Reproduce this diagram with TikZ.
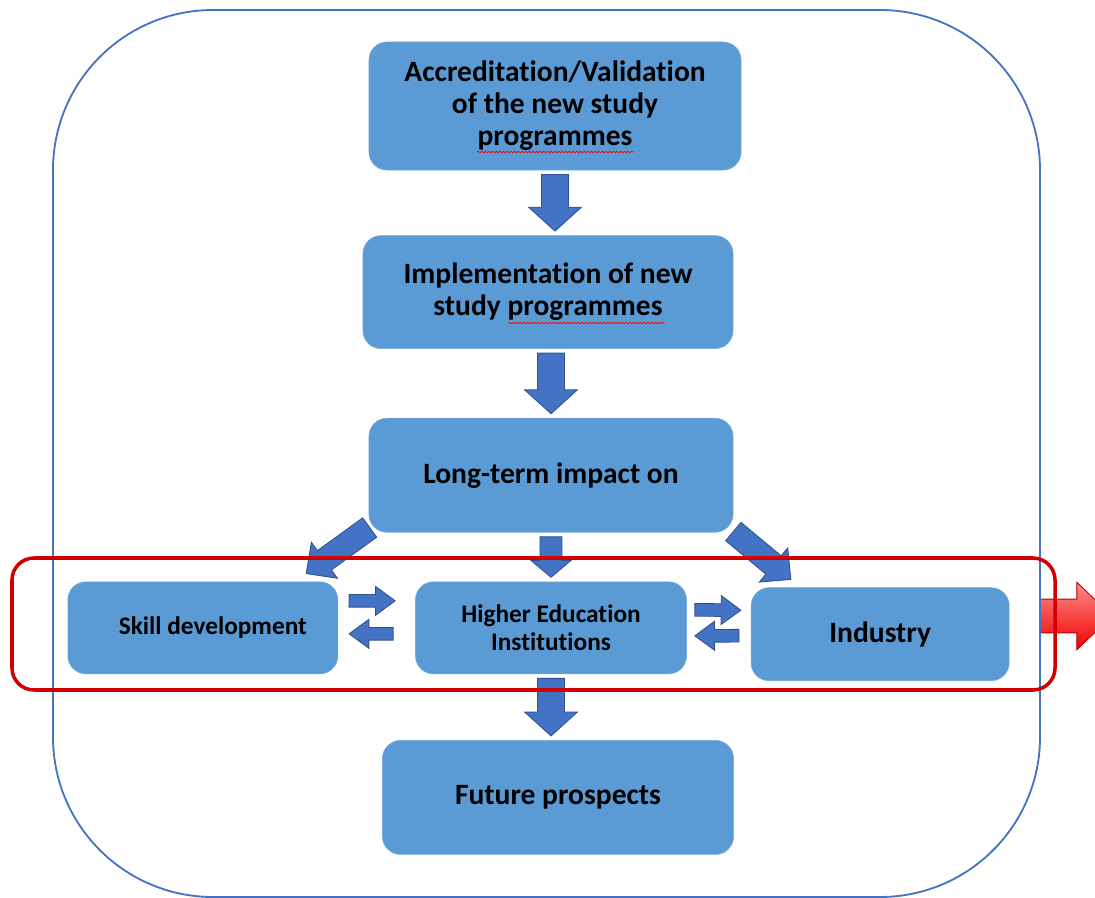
\documentclass[tikz,border=0pt]{standalone}
\usepackage{fontspec}
\setmainfont{Carlito}[Ligatures=NoCommon]
\usetikzlibrary{positioning,calc,decorations.pathmorphing}
\definecolor{boxblue}{HTML}{5B9BD5}
\definecolor{arrblue}{HTML}{4472C4}
\definecolor{arrline}{HTML}{2F528F}
\definecolor{frameblue}{HTML}{4472C4}
\definecolor{framered}{HTML}{D00000}
\definecolor{redlight}{HTML}{FF8C8C}
\definecolor{reddeep}{HTML}{F00000}
\definecolor{redline}{HTML}{C00000}
\tikzset{
  stage style/.style={rectangle, rounded corners=0.45cm, fill=boxblue, draw=boxblue!85!white,
    align=center, font=\fontsize{21}{22.8}\selectfont\bfseries},
  small style/.style={font=\fontsize{18}{19.9}\selectfont\bfseries},
  fat gap/.store in=\fatgap, fat gap=3pt,
  fat/.style n args={3}{fill=arrblue, draw=arrline, line width=0.6pt, line join=miter,
    to path={let \p1=($(\tikztostart)!\fatgap!(\tikztotarget)$),
      \p2=($(\tikztotarget)!\fatgap!(\tikztostart)$),
      \n1={atan2(\y2-\y1,\x2-\x1)}, \n2={veclen(\x2-\x1,\y2-\y1)} in
      ($(\p1)+({\n1+90}:#1)$) -- ($(\p1)+(\n1:{\n2-#3})+({\n1+90}:#1)$)
      -- ($(\p1)+(\n1:{\n2-#3})+({\n1+90}:#2)$) -- (\p2)
      -- ($(\p1)+(\n1:{\n2-#3})+({\n1-90}:#2)$)
      -- ($(\p1)+(\n1:{\n2-#3})+({\n1-90}:#1)$)
      -- ($(\p1)+({\n1-90}:#1)$) -- cycle}},
  red arrow/.style={top color=redlight, bottom color=reddeep, draw=redline},
  spell/.style={draw=red, line width=0.5pt, decorate,
    decoration={snake, amplitude=0.6pt, segment length=2.6pt}}
}

\begin{document}
\begin{tikzpicture}[x=0.025cm, y=-0.025cm]
\useasboundingbox (0,0) rectangle (1095,898);
\coordinate (redtail) at (1040,616);
\coordinate (redtip) at (1112,616);
\begin{scope}
  \clip (0,0) rectangle (1095,898);
  \draw[fat={12pt}{24pt}{25pt}, fat gap=0pt, red arrow] (redtail) to (redtip);
\end{scope}

\node[stage style, minimum width=9.3cm, minimum height=3.2cm] (acc) at (555,106)
  {Accreditation/Validation\\of the new study\\programmes};
\node[stage style, minimum width=9.25cm, minimum height=2.825cm, below=1.625cm of acc, xshift=-0.175cm] (impl)
  {Implementation of new\\study programmes};
\node[stage style, minimum width=9.1cm, minimum height=2.85cm, below=1.725cm of impl, xshift=0.075cm] (impact)
  {Long-term impact on};
\node[stage style, small style, minimum width=6.775cm, minimum height=2.3cm, below=1.225cm of impact] (hei)
  {Higher Education\\Institutions};
\node[stage style, small style, minimum width=6.75cm, minimum height=2.3cm, left=1.925cm of hei] (skill)
  {\hspace*{0.5cm}Skill development};
\node[stage style, minimum width=6.45cm, minimum height=2.325cm, right=1.6cm of hei, yshift=-0.16cm] (ind)
  {Industry};
\node[stage style, minimum width=8.775cm, minimum height=2.85cm, below=1.65cm of hei, xshift=0.175cm] (future)
  {Future prospects};

\draw[spell] (477,152) -- (634,152);
\draw[spell] (508,323) -- (665,323);

\draw[fat={9.6pt}{18.8pt}{17pt}] (acc.south) to (acc.south |- impl.north);
\draw[fat={9.6pt}{18.8pt}{17pt}] (impact.north |- impl.south) to (impact.north);
\draw[fat={7.8pt}{14.2pt}{12pt}] (impact.south) to (hei.north);
\draw[fat={9.6pt}{18.8pt}{17pt}] (hei.south) to (hei.south |- future.north);

\coordinate (dl1) at ($(impact.south west)+(1,-5)$);
\coordinate (dl2) at ($(skill.north east)+(-32,-8)$);
\coordinate (dr1) at ($(impact.south east)+(0,-1)$);
\coordinate (dr2) at ($(ind.north west)+(40,-8)$);
\draw[fat={8.5pt}{15.8pt}{16pt}, fat gap=0pt] (dl1) to (dl2);
\draw[fat={8.5pt}{15.8pt}{16pt}, fat gap=0pt] (dr1) to (dr2);

\coordinate (s1) at ($(skill.east)+(11,-27)$);
\coordinate (h1) at ($(hei.west)+(-20,-27)$);
\coordinate (h2) at ($(hei.west)+(-22,6)$);
\coordinate (s2) at ($(skill.east)+(11,6)$);
\coordinate (h3) at ($(hei.east)+(8,-18)$);
\coordinate (i1) at ($(ind.west)+(-10,-24)$);
\coordinate (i2) at ($(ind.west)+(-12,1.5)$);
\coordinate (h4) at ($(hei.east)+(8,8)$);
\draw[fat={4.5pt}{10.3pt}{14pt}, fat gap=0pt] (s1) to (h1);
\draw[fat={4.5pt}{10.3pt}{14pt}, fat gap=0pt] (h2) to (s2);
\draw[fat={4.5pt}{10.3pt}{14pt}, fat gap=0pt] (h3) to (i1);
\draw[fat={4.5pt}{10.3pt}{14pt}, fat gap=0pt] (i2) to (h4);

\draw[frameblue, line width=1.3pt, rounded corners=4cm] (53,10) rectangle (1040,897);
\draw[framered, line width=2.5pt, rounded corners=0.55cm] (12,558) rectangle (1055,690);
\end{tikzpicture}
\end{document}
